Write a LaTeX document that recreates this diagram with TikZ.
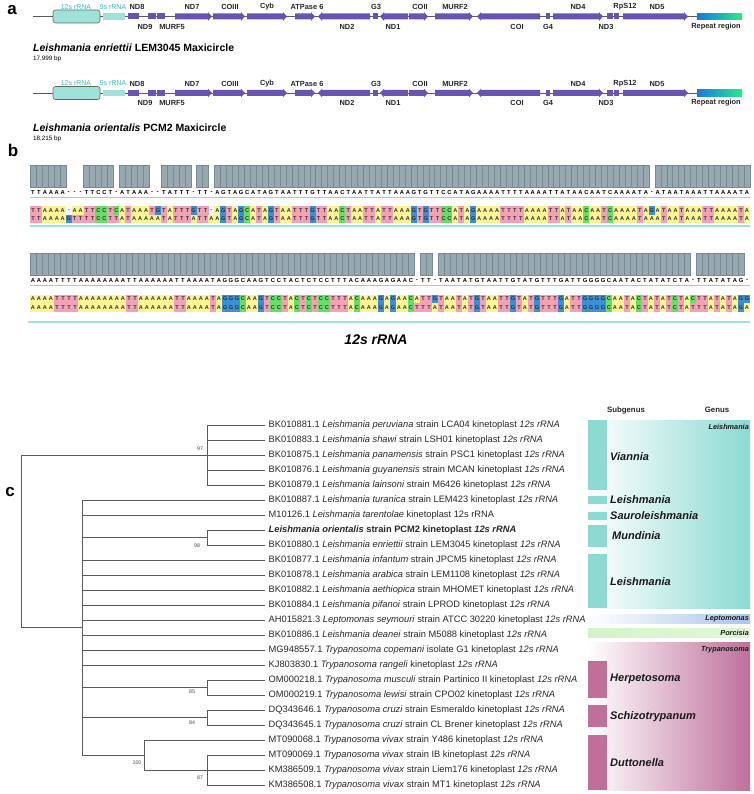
\documentclass[tikz,border=0pt]{standalone}
\usepackage{fontspec}
\setmainfont{Liberation Sans}
\usepackage{xcolor}
\definecolor{genepurple}{RGB}{106,84,178}
\definecolor{rrnafill}{RGB}{160,226,218}
\definecolor{rrnatext}{RGB}{52,182,196}
\definecolor{rrnaedge}{RGB}{92,112,84}
\definecolor{repblue}{RGB}{24,120,230}
\definecolor{repgreen}{RGB}{40,235,130}
\definecolor{ntA}{RGB}{250,244,150}
\definecolor{ntT}{RGB}{243,162,182}
\definecolor{ntG}{RGB}{62,142,210}
\definecolor{ntC}{RGB}{104,222,104}
\definecolor{barfill}{RGB}{152,169,177}
\definecolor{baredge}{RGB}{118,136,146}
\definecolor{alnteal}{RGB}{160,225,220}
\definecolor{leishteal}{RGB}{140,218,210}
\definecolor{leptoblue}{RGB}{170,196,235}
\definecolor{porcgreen}{RGB}{212,244,200}
\definecolor{trypmauve}{RGB}{190,112,155}
\definecolor{treegray}{RGB}{90,90,90}
\definecolor{leaftext}{RGB}{40,40,40}
\usepackage{tikz}

\newcommand{\cw}{5.95}
\newcount\ntcol

\newcommand{\genefwd}[3]{
\fill[genepurple](#1,#3-3)--(#2-4,#3-3)--(#2-4,#3-4.3)--(#2,#3)--(#2-4,#3+4.3)--(#2-4,#3+3)--(#1,#3+3)--cycle;
}
\newcommand{\generev}[3]{
\fill[genepurple](#2,#3-3)--(#1+4,#3-3)--(#1+4,#3-4.3)--(#1,#3)--(#1+4,#3+4.3)--(#1+4,#3+3)--(#2,#3+3)--cycle;
}
\newcommand{\geneblk}[3]{
\fill[genepurple](#1,#3-3)--(#2,#3-3)--(#2,#3+3)--(#1,#3+3)--cycle;
}

\newcommand{\maxitrack}[1]{
\draw[treegray, line width=0.7pt](33,#1)--(697,#1);
\draw[rrnaedge, fill=rrnafill, rounded corners=2.5pt, line width=0.6pt](53,#1-6.5) rectangle (100,#1+6.5);
\fill[rrnafill](103,#1-3.2) rectangle (125,#1+3.2);
\geneblk{128}{139}{#1}
\geneblk{148}{156}{#1}
\geneblk{157}{165}{#1}
\genefwd{175}{212}{#1}
\genefwd{213}{245}{#1}
\genefwd{247}{287}{#1}
\genefwd{295}{315}{#1}
\generev{318}{370}{#1}
\geneblk{373}{378}{#1}
\generev{380}{408}{#1}
\genefwd{409}{428}{#1}
\genefwd{435}{473}{#1}
\generev{477}{540}{#1}
\geneblk{546}{550}{#1}
\genefwd{553}{603}{#1}
\geneblk{607}{613}{#1}
\geneblk{614}{619}{#1}
\genefwd{623}{688}{#1}
\shade[left color=repblue, right color=repgreen](697,#1-3.2) rectangle (742,#1+3.2);
}

\newcommand{\tracklabels}[2]{
\node[rrnalbl] (rs#2) at (76,#1-9.5) {12s rRNA};
\node[rrnalbl] (rn#2) at (113,#1-9.5) {9s rRNA};
\foreach \gx/\gname [count=\k] in {137/ND8,192/ND7,230/COIII,267/Cyb,307/ATPase 6,376/G3,420/COII,455/MURF2,578/ND4,625/RpS12,657/ND5}
  \node[genetop] (up#2\k) at (\gx,#1-9.5) {\gname};
\foreach \gx/\gname [count=\k] in {145/ND9,172/MURF5,347/ND2,393/ND1,517/COI,548/G4,606/ND3,716/Repeat region}
  \node[genetop] (dn#2\k) at (\gx,#1+10) {\gname};
}

\makeatletter
% conservation bars + consensus letters
\newcommand{\consrow}[3]{
\global\ntcol=0
\@tfor\nt:=#3\do{%
  \if\nt-\else
    \fill[barfill, draw=baredge, line width=0.3pt](#1+\the\ntcol*\cw-\cw/2,#2) rectangle ++(\cw,22);
  \fi
  \node[consnt] at (#1+\the\ntcol*\cw,#2+28) {\nt};
  \global\advance\ntcol by 1}
}
% one aligned sequence
\newcommand{\seqrow}[4]{
\global\ntcol=0
\@tfor\nt:=#4\do{%
  \if\nt-
    \node[ntcell] (#3\the\ntcol) at (#1+\the\ntcol*\cw,#2) {-};
  \else
    \node[ntcell, fill=nt\nt] (#3\the\ntcol) at (#1+\the\ntcol*\cw,#2) {\nt};
  \fi
  \global\advance\ntcol by 1}
}
\makeatother

\tikzset{
  genetop/.style={font=\fontsize{7.4}{8}\selectfont\bfseries, text=black!85, inner sep=0pt},
  rrnalbl/.style={font=\fontsize{7}{8}\selectfont, text=rrnatext, inner sep=0pt},
  trackname/.style={anchor=west, inner sep=0pt, font=\fontsize{10.5}{12}\selectfont\bfseries},
  tracklen/.style={anchor=west, inner sep=0pt, font=\fontsize{6.3}{7}\selectfont},
  panel/.style={font=\fontsize{17}{18}\selectfont\bfseries, inner sep=0pt},
  consnt/.style={font=\fontsize{5.8}{6}\selectfont\bfseries, inner sep=0pt},
  ntcell/.style={minimum width=6.1pt, minimum height=8.6pt, inner sep=0pt, font=\fontsize{5.6}{6}\selectfont\bfseries, text=black!80},
  leaf/.style={anchor=west, inner xsep=3.5pt, inner ysep=0pt, text height=6.5pt, text depth=1.8pt, font=\fontsize{9.3}{10}\selectfont, text=leaftext},
  branch/.style={draw=treegray, line width=0.6pt},
  boot/.style={font=\fontsize{5.3}{6}\selectfont, text=black!70, inner sep=0pt},
  subgen/.style={anchor=west, inner sep=0pt, font=\fontsize{11}{12}\selectfont\bfseries\itshape, text=black!90},
  genuslbl/.style={anchor=east, inner sep=0pt, font=\fontsize{7.3}{8}\selectfont\bfseries\itshape, text=black!90},
  colhead/.style={inner sep=0pt, font=\fontsize{7.8}{9}\selectfont\bfseries, text=black!85},
}

\begin{document}
\begin{tikzpicture}[x=1pt, y=-1pt]
\useasboundingbox (0,0) rectangle (753,794);

% a
\node[panel] (pa) at (12,10) {a};
\maxitrack{16.5}
\tracklabels{16.5}{A}
\node[trackname] (t1) at (33,48) {\textit{Leishmania enriettii} LEM3045 Maxicircle};
\node[tracklen] (t1bp) at (33,59) {17,999 bp};

\maxitrack{93}
\tracklabels{93}{B}
\node[trackname] (t2) at (33,128) {\textit{Leishmania orientalis} PCM2 Maxicircle};
\node[tracklen] (t2bp) at (33,139) {18,215 bp};

% b
\node[panel] (pb) at (13,150) {b};

\consrow{33}{165}{TTAAAA---TTCCT-ATAAA--TATTT-TT-AGTAGCATAGTAATTTGTTAACTAATTATTAAAGTGTTCCATAGAAAATTTTAAAATTATAACAATCAAAATA-ATAATAAATTAAAATA}
\draw[black!25, line width=0.3pt](30,197)--(750,197);
\seqrow{33}{210.5}{ua}{TTAAAA-AATTCCTCATAAATGTATTTGTT-AGTAGCATAGTAATTTGTTAACTAATTATTAAAGTGTTCCATAGAAAATTTTAAAATTATAACAATCAAAATAGATAATAAATTAAAATA}
\seqrow{33}{219}{ub}{TTAAAAGTTTTCCTTATAAAAATATTTATTAAGTAGCATAGTAATTTGTTAACTAATTATTAAAGTGTTCCATAGAAAATTTTAAAATTATAACAATCAAAATAAATAATAAATTAAAATA}
\fill[alnteal](30,225) rectangle (750,227.5);

\renewcommand{\cw}{6}
\consrow{33}{253}{AAAATTTTAAAAAAAATTAAAAAATTAAAATAGGGCAAGTCCTACTCTCCTTTACAAAGAGAAC-TT-TAATATGTAATTGTATGTTTGATTGGGGCAATACTATATCTA-TTATATAG-}
\draw[black!25, line width=0.3pt](30,285)--(750,285);
\seqrow{33}{299}{va}{AAAATTTTAAAAAAAATTAAAAAATTAAAATAGGGCAAGTCCTACTCTCCTTTACAAAGAGAACATTGTAATATGTAATTGTATGTTTGATTGGGGCAATACTATATCTACTTATATAGG}
\seqrow{33}{307.5}{vb}{AAAATTTTAAAAAAAATTAAAAAATTAAAATAGGGCAAGTCCTACTCTCCTTTACAAAGAGAACTTTATAATATGTAATTGTATGTTTGATTGGGGCAATACTATATCTATTTATATAGA}
\fill[alnteal](28,320.5) rectangle (750,323);

\node[font=\fontsize{14}{16}\selectfont\bfseries\itshape, inner sep=0pt] (rrna) at (376,340) {12s rRNA};

% c
\node[panel] (pc) at (10,492) {c};

\shade[left color=white, right color=leishteal](588,420) rectangle (750,608);
\fill[leishteal](588,420) rectangle (607,490);
\fill[leishteal](588,496) rectangle (607,504);
\fill[leishteal](588,512) rectangle (607,520);
\fill[leishteal](588,525) rectangle (607,547);
\fill[leishteal](588,554) rectangle (607,608);
\shade[left color=white, right color=leptoblue](588,614) rectangle (750,623);
\shade[left color=porcgreen, right color=porcgreen!70](588,628) rectangle (750,637);
\shade[left color=white, right color=trypmauve](588,642) rectangle (750,790);
\fill[trypmauve](588,661) rectangle (607,698);
\fill[trypmauve](588,705) rectangle (607,727);
\fill[trypmauve](588,735) rectangle (607,790);

\node[colhead] (hsub) at (626,410) {Subgenus};
\node[colhead] (hgen) at (717,410) {Genus};

\node[genuslbl] (gleish) at (749,427) {Leishmania};
\node[genuslbl] (glept) at (749,619) {Leptomonas};
\node[genuslbl] (gporc) at (749,633) {Porcisia};
\node[genuslbl] (gtryp) at (749,650) {Trypanosoma};

\node[subgen] (svian) at (610,457) {Viannia};
\node[subgen] (sleish) at (610,500) {Leishmania};
\node[subgen] (ssaur) at (610,516) {Sauroleishmania};
\node[subgen] (smund) at (612,536) {Mundinia};
\node[subgen] (sleishb) at (610,582) {Leishmania};
\node[subgen] (sherp) at (610,679) {Herpetosoma};
\node[subgen] (sschiz) at (610,717) {Schizotrypanum};
\node[subgen] (sdutt) at (610,763) {Duttonella};

\node[leaf] (l0) at (265,425) {BK010881.1 \textit{Leishmania peruviana} strain LCA04 kinetoplast \textit{12s rRNA}};
\node[leaf] (l1) at (265,440) {BK010883.1 \textit{Leishmania shawi} strain LSH01 kinetoplast \textit{12s rRNA}};
\node[leaf] (l2) at (265,455) {BK010875.1 \textit{Leishmania panamensis} strain PSC1 kinetoplast \textit{12s rRNA}};
\node[leaf] (l3) at (265,470) {BK010876.1 \textit{Leishmania guyanensis} strain MCAN kinetoplast \textit{12s rRNA}};
\node[leaf] (l4) at (265,485) {BK010879.1 \textit{Leishmania lainsoni} strain M6426 kinetoplast \textit{12s rRNA}};
\node[leaf] (l5) at (265,500) {BK010887.1 \textit{Leishmania turanica} strain LEM423 kinetoplast \textit{12s rRNA}};
\node[leaf] (l6) at (265,515) {M10126.1 \textit{Leishmania tarentolae} kinetoplast 12s rRNA};
\node[leaf] (l7) at (265,530) {\textbf{\textit{Leishmania orientalis} strain PCM2 kinetoplast \textit{12s rRNA}}};
\node[leaf] (l8) at (265,545) {BK010880.1 \textit{Leishmania enriettii} strain LEM3045 kinetoplast \textit{12s rRNA}};
\node[leaf] (l9) at (265,560) {BK010877.1 \textit{Leishmania infantum} strain JPCM5 kinetoplast \textit{12s rRNA}};
\node[leaf] (l10) at (265,575) {BK010878.1 \textit{Leishmania arabica} strain LEM1108 kinetoplast \textit{12s rRNA}};
\node[leaf] (l11) at (265,590) {BK010882.1 \textit{Leishmania aethiopica} strain MHOMET kinetoplast \textit{12s rRNA}};
\node[leaf] (l12) at (265,605) {BK010884.1 \textit{Leishmania pifanoi} strain LPROD kinetoplast \textit{12s rRNA}};
\node[leaf] (l13) at (265,620) {AH015821.3 \textit{Leptomonas seymouri} strain ATCC 30220 kinetoplast \textit{12s rRNA}};
\node[leaf] (l14) at (265,635) {BK010886.1 \textit{Leishmania deanei} strain M5088 kinetoplast \textit{12s rRNA}};
\node[leaf] (l15) at (265,650) {MG948557.1 \textit{Trypanosoma copemani} isolate G1 kinetoplast \textit{12s rRNA}};
\node[leaf] (l16) at (265,665) {KJ803830.1 \textit{Trypanosoma rangeli} kinetoplast \textit{12s rRNA}};
\node[leaf] (l17) at (265,680) {OM000218.1 \textit{Trypanosoma musculi} strain Partinico II kinetoplast \textit{12s rRNA}};
\node[leaf] (l18) at (265,695) {OM000219.1 \textit{Trypanosoma lewisi} strain CPO02 kinetoplast \textit{12s rRNA}};
\node[leaf] (l19) at (265,710) {DQ343646.1 \textit{Trypanosoma cruzi} strain Esmeraldo kinetoplast \textit{12s rRNA}};
\node[leaf] (l20) at (265,725) {DQ343645.1 \textit{Trypanosoma cruzi} strain CL Brener kinetoplast \textit{12s rRNA}};
\node[leaf] (l21) at (265,740) {MT090068.1 \textit{Trypanosoma vivax} strain Y486 kinetoplast \textit{12s rRNA}};
\node[leaf] (l22) at (265,755) {MT090069.1 \textit{Trypanosoma vivax} strain IB kinetoplast \textit{12s rRNA}};
\node[leaf] (l23) at (265,770) {KM386509.1 \textit{Trypanosoma vivax} strain Liem176 kinetoplast \textit{12s rRNA}};
\node[leaf] (l24) at (265,785) {KM386508.1 \textit{Trypanosoma vivax} strain MT1 kinetoplast \textit{12s rRNA}};

\coordinate (root) at (21,541);
\coordinate (vian) at (207,455);
\coordinate (core) at (82,627.5);
\coordinate (mund) at (207,537.5);
\coordinate (herp) at (207,687.5);
\coordinate (schiz) at (207,717.5);
\coordinate (dutt) at (144,755);
\coordinate (duttb) at (207,770);

\draw[branch](root) |- (vian);
\draw[branch](root) |- (core);
\foreach \k in {0,...,4} \draw[branch](vian) |- (l\k.west);
\foreach \k in {5,6,9,10,11,12,13,14,15,16} \draw[branch](core) |- (l\k.west);
\draw[branch](core) |- (mund);
\draw[branch](core) |- (herp);
\draw[branch](core) |- (schiz);
\draw[branch](core) |- (dutt);
\draw[branch](mund) |- (l7.west);
\draw[branch](mund) |- (l8.west);
\draw[branch](herp) |- (l17.west);
\draw[branch](herp) |- (l18.west);
\draw[branch](schiz) |- (l19.west);
\draw[branch](schiz) |- (l20.west);
\draw[branch](dutt) |- (l21.west);
\draw[branch](dutt) |- (duttb);
\foreach \k in {22,23,24} \draw[branch](duttb) |- (l\k.west);

\node[boot] (b97) at (200,449) {97};
\node[boot] (b98) at (197,546) {98};
\node[boot] (b85) at (192,692) {85};
\node[boot] (b84) at (192,723) {84};
\node[boot] (b100) at (137,763) {100};
\node[boot] (b87) at (200,778) {87};

\end{tikzpicture}
\end{document}
